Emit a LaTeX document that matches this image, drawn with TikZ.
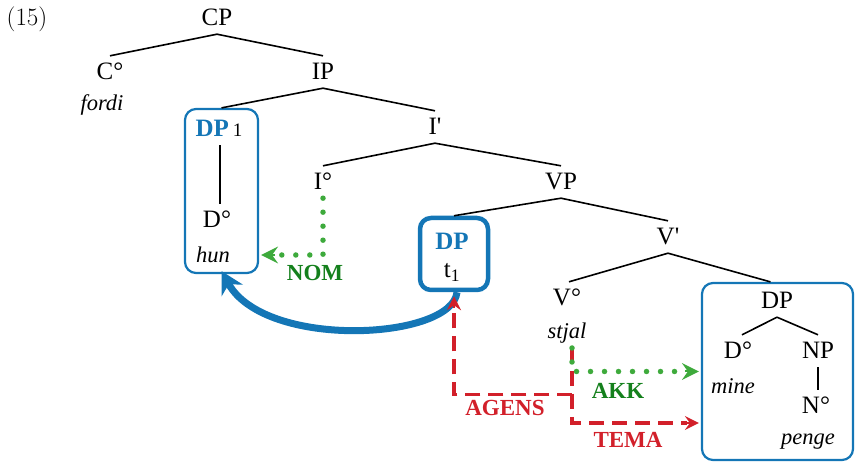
\documentclass[tikz,border=0pt]{standalone}
\usepackage{fontspec}
\newfontfamily\tfont{Liberation Serif}
\usetikzlibrary{arrows.meta}
\definecolor{cblue}{RGB}{20,118,182}
\definecolor{cgreen}{RGB}{62,170,60}
\definecolor{cgreentxt}{RGB}{20,128,28}
\definecolor{cred}{RGB}{210,32,42}
\tikzset{
  tn/.style={font=\tfont\fontsize{25}{25}\selectfont, inner sep=0pt, text height=16pt, text depth=0pt, minimum height=32pt},
  wd/.style={font=\tfont\itshape\fontsize{22.5}{22.5}\selectfont, inner sep=1pt},
  edge/.style={line width=1.6pt, black},
  bx/.style={draw=cblue, line width=2.2pt, rounded corners=11pt, inner sep=0pt},
  bxthick/.style={draw=cblue, line width=4.5pt, rounded corners=11pt, inner sep=0pt},
  lab/.style={font=\tfont\bfseries\fontsize{23}{23}\selectfont, inner sep=1pt},
  greendot/.style={cgreen, line width=5.5pt, line cap=round, dash pattern=on 0pt off 14pt},
  reddash/.style={cred, line width=3.2pt, dash pattern=on 15pt off 8pt},
}
\begin{document}
\begin{tikzpicture}[x=1pt,y=-1pt]
\useasboundingbox (0,0) rectangle (855,462);
% example number
\node[font=\fontsize{25}{25}\selectfont, inner sep=0pt] (num) at (27,19) {(15)};
% tree nodes
\node[tn] (CP) at (217,18) {CP};
\node[tn] (C) at (110,72) {C°};
\node[wd] (fordi) at (102,105) {fordi};
\node[tn] (IP) at (323,72) {IP};
\node[bx, minimum width=73pt, minimum height=164pt] (box1) at (221.5,191) {};
\node[tn, text=cblue] (dp1) at (219,129) {\bfseries DP\,{\mdseries\color{black}\fontsize{19}{19}\selectfont 1}};
\node[tn] (D1) at (217,220) {D°};
\node[wd] (hun) at (213,255) {hun};
\node[tn] (Ibar) at (435,127) {I\textquotesingle};
\node[tn] (I) at (323,182) {I°};
\node[tn] (VP) at (561,182) {VP};
\node[bxthick, minimum width=68pt, minimum height=72pt] (box2) at (454,254) {};
\node[tn, text=cblue] (dp2) at (452,242) {\bfseries DP};
\node[tn] (t1) at (452,270) {t\textsubscript{1}};
\node[tn] (Vbar) at (668,237) {V\textquotesingle};
\node[tn] (V) at (567,298) {V°};
\node[wd] (stjal) at (567,333) {stjal};
\node[bx, minimum width=151pt, minimum height=177pt] (box3) at (777.5,371.5) {};
\node[tn] (DP3) at (777,301) {DP};
\node[tn] (D3) at (738,351) {D°};
\node[wd] (mine) at (733,386) {mine};
\node[tn] (NP) at (818,351) {NP};
\node[tn] (N) at (816,406) {N°};
\node[wd] (penge) at (808,442) {penge};
% tree edges
\draw[edge] (CP.south) -- (C.north);
\draw[edge] (CP.south) -- (IP.north);
\draw[edge] (IP.south) -- (box1.north);
\draw[edge] (IP.south) -- (Ibar.north);
\draw[edge] (Ibar.south) -- (I.north);
\draw[edge] (Ibar.south) -- (VP.north);
\draw[edge] (VP.south) -- (box2.north);
\draw[edge] (VP.south) -- (Vbar.north);
\draw[edge] (Vbar.south) -- ([xshift=2pt]V.north);
\draw[edge] (Vbar.south) -- ([xshift=-7pt]box3.north);
\draw[edge] ([xshift=1pt]dp1.south) -- ([xshift=1pt]dp1.south |- D1.north);
\draw[edge] (DP3.south) -- ([xshift=4pt]D3.north);
\draw[edge] (DP3.south) -- (NP.north);
\draw[edge] (NP.south) -- (N.north -| NP.south);
% movement arrow
\draw[cblue, line width=7pt, -{Stealth[length=22pt, width=24pt, inset=7pt]}]
  ([xshift=3pt]box2.south) .. controls (452,340) and (265,350) .. ([yshift=3pt]box1.south);
% root of the role arrows
\coordinate (vroot) at (572,348);
% NOM
\draw[greendot] (I.south) |- ([xshift=22pt]box1.east |- hun.center);
\draw[cgreen, line width=2pt, -{Stealth[length=17pt, width=17pt, inset=6pt]}] ([xshift=16pt]box1.east |- hun.center) -- ([xshift=2pt]box1.east |- hun.center);
\node[lab, text=cgreentxt] (nom) at (315,273) {NOM};
% AGENS
\draw[reddash] (vroot) |- ([yshift=-102pt]box2.south) -- ([yshift=-14pt]box2.south);
\draw[cred, line width=2pt, -{Stealth[length=14pt, width=14pt, inset=5pt]}] ([yshift=-16pt]box2.south) -- ([yshift=-4pt]box2.south);
\node[lab, text=cred] (agens) at (505,408) {AGENS};
% TEMA
\draw[reddash] (vroot) |- ([xshift=-14pt, yshift=-51.5pt]box3.west);
\draw[cred, line width=2pt, -{Stealth[length=14pt, width=14pt, inset=5pt]}] ([xshift=-16pt, yshift=-51.5pt]box3.west) -- ([xshift=-2pt, yshift=-51.5pt]box3.west);
\node[lab, text=cred] (tema) at (628,440) {TEMA};
% AKK
\draw[greendot] (vroot) |- ([xshift=-18pt]box3.west);
\draw[cgreen, line width=2pt, -{Stealth[length=17pt, width=17pt, inset=6pt]}] ([xshift=-16pt]box3.west) -- ([xshift=-2pt]box3.west);
\node[lab, text=cgreentxt] (akk) at (618,391) {AKK};
\end{tikzpicture}
\end{document}
